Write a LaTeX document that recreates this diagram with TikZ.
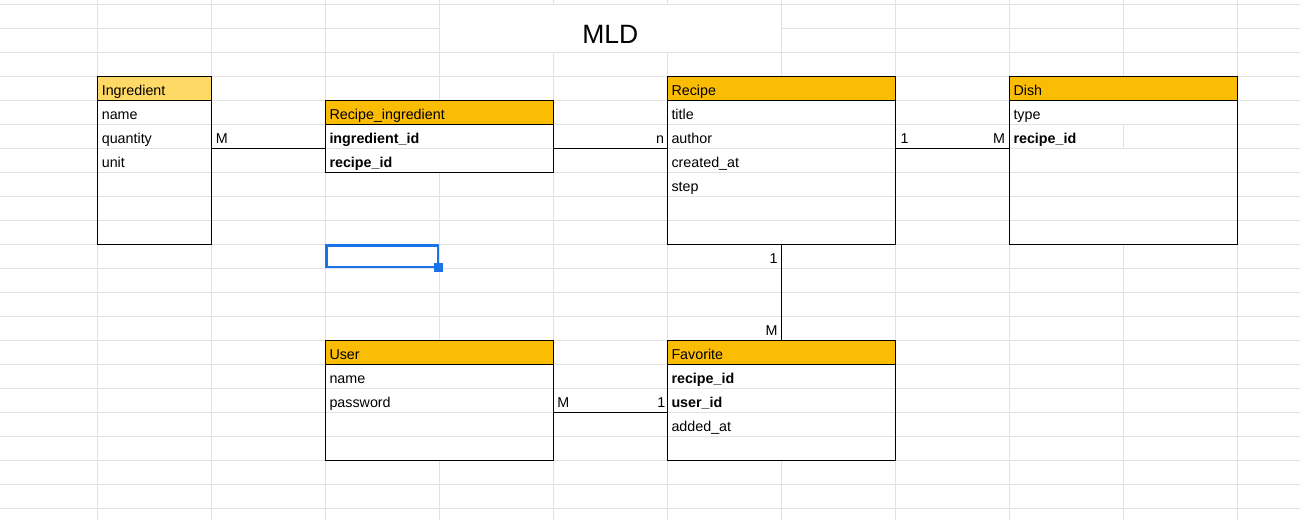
\documentclass[tikz,border=0pt]{standalone}
\usepackage{fontspec}
\setmainfont{Liberation Sans}
\definecolor{gridgray}{HTML}{E2E2E2}
\definecolor{hdr}{HTML}{FBBC04}
\definecolor{hdrlight}{HTML}{FFD966}
\definecolor{selblue}{HTML}{1A73E8}
\newcommand{\ErBox}[7]{%
  \node[boxbg, minimum width=#4, minimum height=#5] (#1) at (#2,#3) {};
  \pgfmathtruncatemacro{\nrows}{#5/24-1}
  \foreach \k in {2,...,\nrows} {
    \draw[gridline] ([yshift=-24*\k pt]#1.north west) -- ([yshift=-24*\k pt]#1.north east);
  }
  \fill[#6] (#1.north west) rectangle ([yshift=-24pt]#1.north east);
  \draw[boxline] ([yshift=-24pt]#1.north west) -- ([yshift=-24pt]#1.north east);
  \node[celltext] (#1-h) at ([xshift=4pt,yshift=-19pt]#1.north west) {#7};
}
\newcommand{\ErBorder}[1]{\draw[boxline] (#1.north west) rectangle (#1.south east);}
\begin{document}
\begin{tikzpicture}[x=1pt,y=-1pt,
  gridline/.style={draw=gridgray, line width=1pt},
  boxbg/.style={fill=white, draw=none, anchor=north west, inner sep=0pt, outer sep=0pt},
  boxline/.style={draw=black, line width=1.25pt},
  conn/.style={draw=black, line width=1.1pt},
  celltext/.style={anchor=base west, inner sep=0pt, font=\fontsize{14.3}{17}\selectfont},
  boldtext/.style={celltext, font=\fontsize{14.3}{17}\selectfont\bfseries},
  lbl/.style={inner sep=0pt, font=\fontsize{14.3}{17}\selectfont},
  lblL/.style={lbl, anchor=base west},
  lblR/.style={lbl, anchor=base east},
]
\useasboundingbox (0,0) rectangle (1300,520);
\fill[white] (0,0) rectangle (1300,520);
% spreadsheet grid
\foreach \gx in {97.6,211.4,325.3,439.3,553.2,667.3,781.3,895.3,1009.3,1123.3,1237.3}
  \draw[gridline] (\gx,0) -- (\gx,520);
\foreach \k in {0,...,21}
  \draw[gridline] (0,4.3+24*\k) -- (1300,4.3+24*\k);
% merged title cell
\fill[white] (439.9,4.9) rectangle (780.7,51.7);
\node[anchor=base, inner sep=0pt, font=\fontsize{26.5}{30}\selectfont] (title) at (610.3,43.3) {MLD};

% entities
\ErBox{ingr}{97.6}{76.3}{113.8}{168}{hdrlight}{Ingredient}
\node[celltext] (ingr-1) at (101.6,119.3) {name};
\node[celltext] (ingr-2) at (101.6,143.3) {quantity};
\node[celltext] (ingr-3) at (101.6,167.3) {unit};
\ErBorder{ingr}

\ErBox{ri}{325.3}{100.3}{227.9}{72}{hdr}{Recipe\_ingredient}
\node[boldtext] (ri-1) at (329.3,143.3) {ingredient\_id};
\node[boldtext] (ri-2) at (329.3,167.3) {recipe\_id};
\ErBorder{ri}

\ErBox{recipe}{667.3}{76.3}{228}{168}{hdr}{Recipe}
\node[celltext] (recipe-1) at (671.3,119.3) {title};
\node[celltext] (recipe-2) at (671.3,143.3) {author};
\node[celltext] (recipe-3) at (671.3,167.3) {created\_at};
\node[celltext] (recipe-4) at (671.3,191.3) {step};
\ErBorder{recipe}

\ErBox{dish}{1009.3}{76.3}{228}{168}{hdr}{Dish}
\draw[gridline] (1123.3,124.3) -- (1123.3,148.3);
\node[celltext] (dish-1) at (1013.3,119.3) {type};
\node[boldtext] (dish-2) at (1013.3,143.3) {recipe\_id};
\ErBorder{dish}

\ErBox{user}{325.3}{340.3}{227.9}{120}{hdr}{User}
\node[celltext] (user-1) at (329.3,383.3) {name};
\node[celltext] (user-2) at (329.3,407.3) {password};
\ErBorder{user}

\ErBox{fav}{667.3}{340.3}{228}{120}{hdr}{Favorite}
\node[boldtext] (fav-1) at (671.3,383.3) {recipe\_id};
\node[boldtext] (fav-2) at (671.3,407.3) {user\_id};
\node[celltext] (fav-3) at (671.3,431.3) {added\_at};
\ErBorder{fav}

% connectors
\coordinate (yA) at (0,148.3);
\coordinate (yB) at (0,412.3);
\draw[conn] (ingr.east |- yA) -- (ri.west |- yA);
\draw[conn] (ri.east |- yA) -- (recipe.west |- yA);
\draw[conn] (recipe.east |- yA) -- (dish.west |- yA);
\draw[conn] (recipe.south) -- (fav.north);
\draw[conn] (user.east |- yB) -- (fav.west |- yB);

% cardinalities
\node[lblL] (c1) at (215.6,143.3) {M};
\node[lblR] (c2) at (664.3,143.3) {n};
\node[lblL] (c3) at (900.3,143.3) {1};
\node[lblR] (c4) at (1005.3,143.3) {M};
\node[lblR] (c5) at (777.8,263.3) {1};
\node[lblR] (c6) at (777.8,335.3) {M};
\node[lblL] (c7) at (557.2,407.3) {M};
\node[lblR] (c8) at (665.5,407.3) {1};

% selected cell
\draw[selblue, line width=2.4pt] (326.5,245.5) rectangle (438.2,267.1);
\fill[selblue] (433.8,262.6) rectangle (443.2,271.8);
\end{tikzpicture}
\end{document}
